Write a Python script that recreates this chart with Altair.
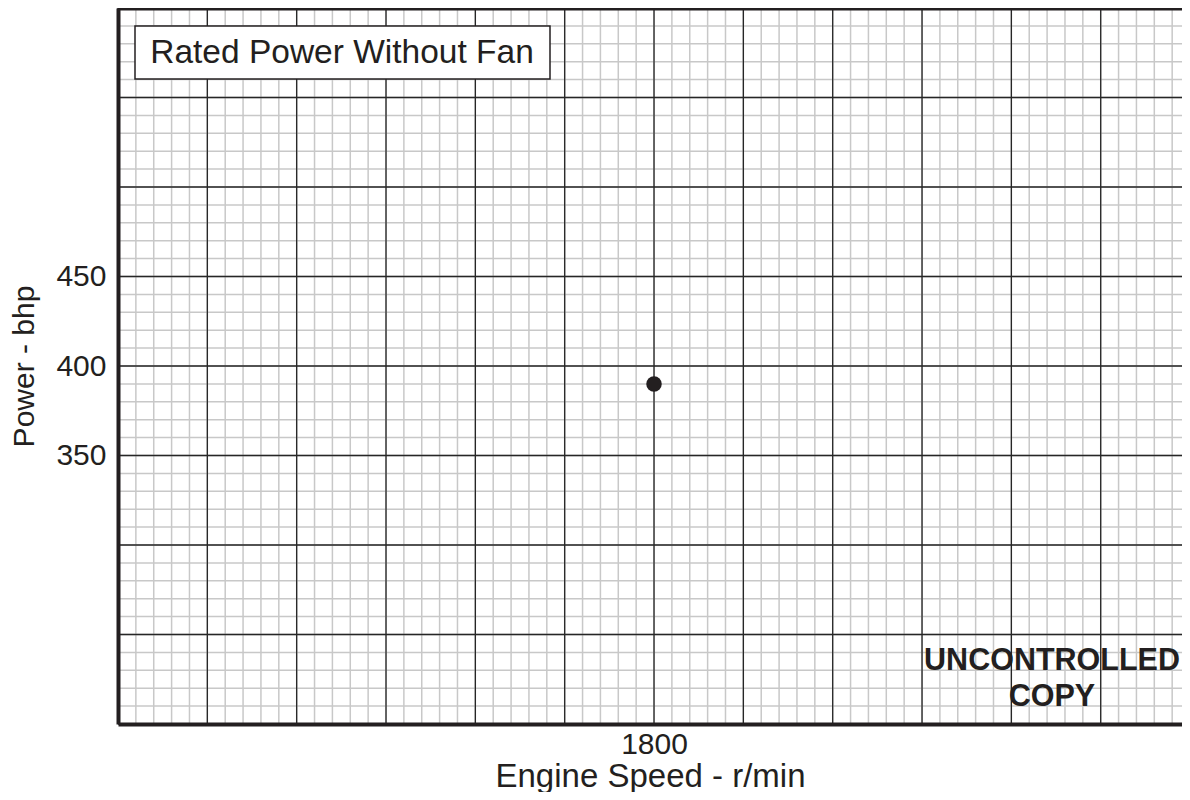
import altair as alt
import pandas as pd

# ---- data ----
x_minor = list(range(1200, 2391, 20))
x_major = list(range(1200, 2391, 100))
y_minor = list(range(200, 601, 10))
y_major = list(range(200, 601, 50))
x_ticks = [1800]
y_ticks = [350, 400, 450]
speed = [1800]
power = [390]
box_label = ["Rated Power Without Fan"]
stamp_lines = ["UNCONTROLLED", "COPY"]

W, H = 1064, 716
FONT = "Liberation Sans"
INK = "#231f20"

xs = alt.Scale(domain=[1200, 2391], nice=False, zero=False)
ys = alt.Scale(domain=[200, 600], nice=False, zero=False)

x_axis = alt.Axis(
    values=x_ticks, format="d", title="Engine Speed - r/min", grid=False, ticks=False,
    domain=True, domainColor=INK, domainWidth=4, zindex=1,
    labelFont=FONT, labelFontSize=30, labelColor=INK, labelPadding=5,
    titleFont=FONT, titleFontSize=33, titleFontWeight="normal",
    titleColor=INK, titlePadding=1)
y_axis = alt.Axis(
    values=y_ticks, format="d", title="Power - bhp", grid=False, ticks=False,
    domain=True, domainColor=INK, domainWidth=4, zindex=1,
    labelFont=FONT, labelFontSize=30, labelColor=INK, labelPadding=12,
    titleFont=FONT, titleFontSize=30, titleFontWeight="normal",
    titleColor=INK, titlePadding=16)

minor_v = alt.Chart(pd.DataFrame({"x": x_minor})).mark_rule(
    color="#c8c8c8", strokeWidth=1.5
).encode(x=alt.X("x:Q", scale=xs, axis=x_axis))
minor_h = alt.Chart(pd.DataFrame({"y": y_minor})).mark_rule(
    color="#c8c8c8", strokeWidth=1.5
).encode(y=alt.Y("y:Q", scale=ys, axis=y_axis))
major_v = alt.Chart(pd.DataFrame({"x": x_major})).mark_rule(
    color="#262626", strokeWidth=1.3
).encode(x=alt.X("x:Q", scale=xs, axis=x_axis))
major_h = alt.Chart(pd.DataFrame({"y": y_major})).mark_rule(
    color="#262626", strokeWidth=1.3
).encode(y=alt.Y("y:Q", scale=ys, axis=y_axis))

point = alt.Chart(pd.DataFrame({"speed": speed, "power": power})).mark_circle(
    color=INK, opacity=1, size=240
).encode(
    x=alt.X("speed:Q", scale=xs, axis=x_axis),
    y=alt.Y("power:Q", scale=ys, axis=y_axis),
)

top_border = alt.Chart(pd.DataFrame({"a": [0]})).mark_rule(
    color=INK, strokeWidth=5
).encode(y=alt.value(0))

box = alt.Chart(pd.DataFrame({"a": [0]})).mark_rect(
    fill="white", stroke=INK, strokeWidth=1.5
).encode(x=alt.value(17), x2=alt.value(432), y=alt.value(18), y2=alt.value(71))

box_text = alt.Chart(pd.DataFrame({"t": box_label})).mark_text(
    font=FONT, fontSize=33.5, color=INK, align="center", baseline="middle"
).encode(text="t:N", x=alt.value(224), y=alt.value(45))

stamp1 = alt.Chart(pd.DataFrame({"t": stamp_lines[:1]})).mark_text(
    font=FONT, fontSize=30.5, fontWeight="bold", color=INK,
    align="center", baseline="middle"
).encode(text="t:N", x=alt.value(934), y=alt.value(653))
stamp2 = alt.Chart(pd.DataFrame({"t": stamp_lines[1:]})).mark_text(
    font=FONT, fontSize=30.5, fontWeight="bold", color=INK,
    align="center", baseline="middle"
).encode(text="t:N", x=alt.value(934), y=alt.value(689))

chart = alt.layer(
    minor_v, minor_h, major_v, major_h, top_border, box, box_text,
    stamp1, stamp2, point
).properties(
    width=W, height=H,
    autosize=alt.AutoSizeParams(type="none"),
    padding={"left": 110, "top": 0, "right": 0, "bottom": 68},
    background="white",
).configure_view(stroke=None)

chart.save("out.html", embed_options={"renderer": "svg", "actions": False})
